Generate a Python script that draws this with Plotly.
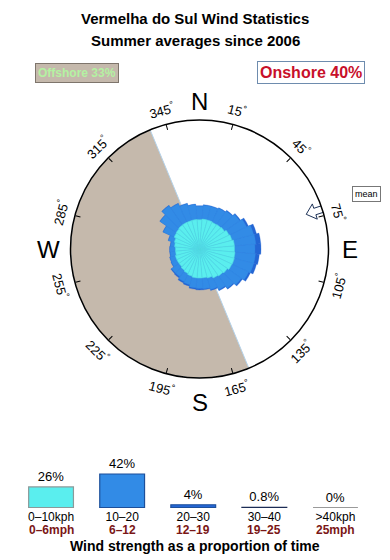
import numpy as np
import plotly.graph_objects as go

W, H = 390, 560

# ---------------- data ----------------
title_lines = ["Vermelha do Sul Wind Statistics", "Summer averages since 2006"]
offshore_pct = 33
onshore_pct = 40

directions = list(range(0, 360, 10))  # sector centres (deg, from north)
# rose layers (radial increments, relative scale; full circle = 129)
rose_0_10 = [29.3, 30, 30, 29.5, 30, 30.6, 32.5, 33.5, 35, 35, 35.6, 36,
             35.7, 34, 33, 32, 30, 29, 29, 29, 28, 27, 26, 25,
             25, 25, 24, 24, 25, 26, 28, 28.5, 29.4, 29.5, 29.4, 29.6]
rose_10_20 = [13.5, 14, 14, 15.5, 16.5, 18.5, 19.5, 22.5, 21.5, 20.5, 20.5, 20,
              18.5, 17, 15, 13, 12, 11, 10.5, 10, 9, 9, 8, 9,
              6, 5.5, 5.5, 5.5, 4, 6, 12, 19.5, 23.5, 20.5, 17.5, 15]
rose_20_30 = [0.5, 0.5, 0.5, 0.5, 0.8, 1, 2, 3, 5, 6, 4, 3,
              2, 1.5, 1, 1, 1, 1, 1.5, 1.5, 1.5, 1.5, 1.5, 1,
              0.5, 0.5, 0.5, 0.5, 0.5, 0.5, 0.5, 0.5, 0.5, 0.5, 0.5, 0.5]
rose_max = 129
offshore_from, offshore_to = 157.5, 337.5
mean_direction = 72

angle_ticks = [15, 45, 75, 105, 135, 165, 195, 225, 255, 285, 315, 345]
compass = [("N", 0), ("E", 90), ("S", 180), ("W", 270)]

speed_kph = ["0–10kph", "10–20", "20–30", "30–40", ">40kph"]
speed_mph = ["0–6mph", "6–12", "12–19", "19–25", "25mph"]
speed_pct = [26, 42, 4, 0.8, 0]

# ---------------- styles ----------------
C_CYAN = "#5aeeee"
C_BLUE = "#328be6"
C_DARK = "#2466d4"
C_NAVY = "#1c2c55"
C_GREY = "#9a9a9a"
C_TAN = "#c5b9ac"
FONT = "Liberation Sans, Arial, sans-serif"
BAR_W = 0.63
bar_fill = [C_CYAN, C_BLUE, C_DARK, C_NAVY, C_GREY]
bar_edge = ["#8a9a9a", "#1d4f9a", "#1d4f9a", C_NAVY, C_GREY]

cx, cy, R = 199.5, 249.0, 129.0  # polar centre / radius in px

fig = go.Figure()

# offshore half-disc
fig.add_trace(go.Barpolar(
    r=[rose_max], theta=[(offshore_from + offshore_to) / 2],
    width=[offshore_to - offshore_from],
    marker=dict(color=C_TAN, line=dict(color="#b4d2ea", width=1)),
    hoverinfo="skip", showlegend=False))

c1 = np.array(rose_0_10)
c2 = c1 + np.array(rose_10_20)
c3 = c2 + np.array(rose_20_30)
for vals, col, lc, lw in [(c3, C_DARK, C_DARK, 0.3), (c2, C_BLUE, C_BLUE, 0.3),
                          (c1, C_CYAN, "#52d6e2", 0.6)]:
    fig.add_trace(go.Barpolar(
        r=vals, theta=directions, width=[10] * len(directions),
        marker=dict(color=col, line=dict(color=lc, width=lw)),
        hoverinfo="skip", showlegend=False))

# mean-direction arrow (hollow), pointing inward
b = np.radians(mean_direction)
loc = [(rose_max * 0.87, 0), (rose_max * 0.94, 8), (rose_max * 0.94, 3.4),
       (rose_max * 1.005, 3.4), (rose_max * 1.005, -3.4), (rose_max * 0.94, -3.4),
       (rose_max * 0.94, -8), (rose_max * 0.87, 0)]
ar_r, ar_t = [], []
for d, w in loc:
    x = d * np.sin(b) + w * np.cos(b)
    y = d * np.cos(b) - w * np.sin(b)
    ar_r.append(float(np.hypot(x, y)))
    ar_t.append(float(np.degrees(np.arctan2(x, y)) % 360))
fig.add_trace(go.Scatterpolar(
    r=ar_r, theta=ar_t, mode="lines", fill="toself", fillcolor="white",
    line=dict(color="#1e3358", width=1), hoverinfo="skip", showlegend=False))

# speed bars
fig.add_trace(go.Bar(
    x=list(range(len(speed_pct))), y=speed_pct,
    marker=dict(color=bar_fill, line=dict(color=bar_edge, width=1.2)),
    text=[f"{v:g}%" for v in speed_pct], textposition="outside",
    textfont=dict(size=13, color="black", family=FONT),
    cliponaxis=False, width=BAR_W, hoverinfo="skip", showlegend=False,
    xaxis="x", yaxis="y"))

# baseline segment under each speed category
shapes = []
for i, col in enumerate(bar_edge):
    shapes.append(dict(type="line", xref="x", yref="y",
                       x0=i - BAR_W / 2, x1=i + BAR_W / 2, y0=0, y1=0,
                       line=dict(color=col, width=2), layer="above"))

fig.update_layout(
    width=W, height=H, margin=dict(l=0, r=0, t=0, b=0),
    paper_bgcolor="white", plot_bgcolor="white",
    font=dict(family=FONT, color="black"),
    polar=dict(
        domain=dict(x=[(cx - R) / W, (cx + R) / W],
                    y=[(H - cy - R) / H, (H - cy + R) / H]),
        bgcolor="white", barmode="overlay", hole=0,
        radialaxis=dict(visible=False, range=[0, rose_max]),
        angularaxis=dict(rotation=90, direction="clockwise", showgrid=False,
                         showticklabels=False, ticks="inside", ticklen=5,
                         tickmode="array", tickvals=angle_ticks,
                         tickcolor="black", linecolor="black", linewidth=1.5)),
    xaxis=dict(domain=[15.5 / W, 371 / W], range=[-0.5, 4.5],
               tickmode="array", tickvals=list(range(5)), ticktext=speed_kph,
               tickfont=dict(size=12, color="black"), ticks="",
               showline=False, showgrid=False, zeroline=False, fixedrange=True),
    yaxis=dict(domain=[(H - 508) / H, (H - 459.4) / H], range=[0, 60],
               visible=False, fixedrange=True),
    bargap=0.37,
    shapes=shapes,
)

def pa(text, x, y, size, color="black", **kw):
    d = dict(text=text, x=x / W, y=1 - y / H, xref="paper", yref="paper",
             xanchor="center", yanchor="middle", showarrow=False,
             font=dict(size=size, color=color))
    d.update(kw)
    return d

ann = []
ann.append(pa(f"<b>{title_lines[0]}</b>", W / 2, 18, 15))
ann.append(pa(f"<b>{title_lines[1]}</b>", W / 2, 41, 15))
ann.append(pa(f"<b>Offshore {offshore_pct}%</b>", 77, 73.5, 12, "#b4f2a2",
              bgcolor=C_TAN, bordercolor="#7e756c", borderwidth=1, borderpad=2))
ann.append(pa(f"<b>Onshore {onshore_pct}%</b>", 311, 72.5, 16, "#c8102a",
              bgcolor="white", bordercolor="#6e8cae", borderwidth=1, borderpad=2))
ann.append(pa("mean", 366.5, 194, 9, bgcolor="white", bordercolor="#777777",
              borderwidth=1, borderpad=2))
compass_r = {0: R + 19, 90: R + 21, 180: R + 24, 270: R + 22}
for lab, bear in compass:
    rr = compass_r[bear]
    x = cx + rr * np.sin(np.radians(bear))
    y = cy - rr * np.cos(np.radians(bear))
    ann.append(pa(lab, x, y, 24))
for bear in angle_ticks:
    rr = R + 15
    x = cx + rr * np.sin(np.radians(bear))
    y = cy - rr * np.cos(np.radians(bear))
    ang = bear - 180 if 90 < bear < 270 else (bear if bear < 90 else bear - 360)
    ann.append(pa(f"{bear}<sup>°</sup>", x, y, 13, textangle=ang))
for i, m in enumerate(speed_mph):
    ann.append(dict(text=f"<b>{m}</b>", x=i, y=1 - 530 / H, xref="x", yref="paper",
                    xanchor="center", yanchor="middle", showarrow=False,
                    font=dict(size=12, color="#7a1616")))
ann.append(pa("<b>Wind strength as a proportion of time</b>", W / 2, 546, 14))
fig.update_layout(annotations=ann)

fig.write_html("out.html")
